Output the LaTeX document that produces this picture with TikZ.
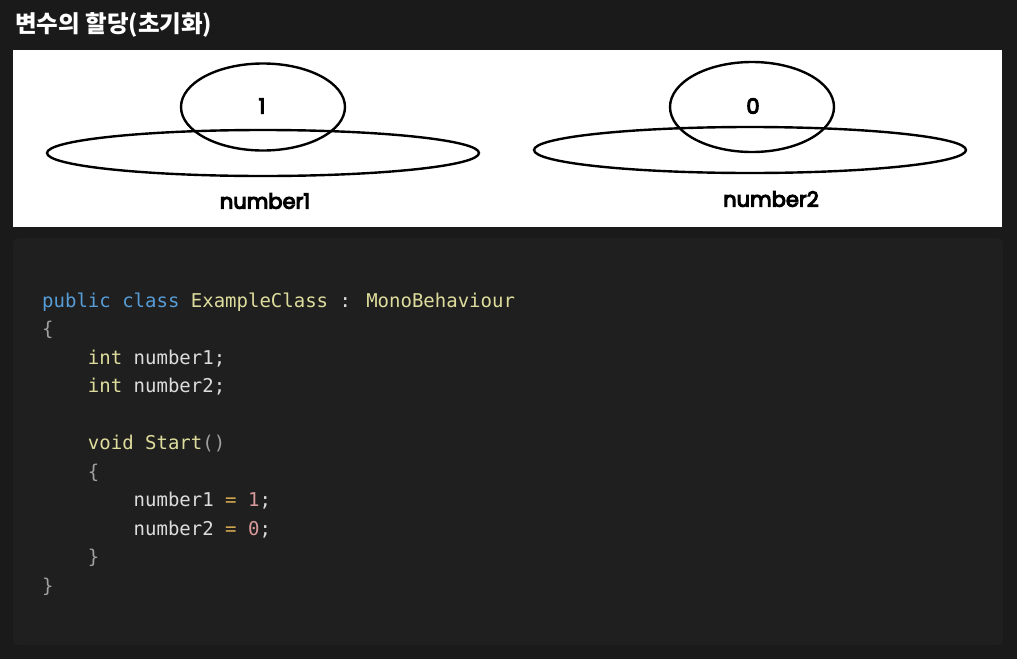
\documentclass[tikz,border=0pt]{standalone}
\usepackage{fontspec}
\usetikzlibrary{shapes.geometric}
\newfontfamily\krfont{Noto Sans CJK KR}
\newfontfamily\lblfont{Poppins}[FakeBold=5]
\newfontfamily\codefont{DejaVu Sans Mono}
\definecolor{bgdark}{HTML}{1A1A1A}
\definecolor{codebg}{HTML}{1F1F1F}
\definecolor{ckw}{HTML}{569CD6}
\definecolor{ctype}{HTML}{DEDC9C}
\definecolor{cplain}{HTML}{DCDCDC}
\definecolor{cbrace}{HTML}{A0A0A0}
\definecolor{cop}{HTML}{D9A951}
\definecolor{cnum}{HTML}{D99A9A}
\tikzset{
  cell/.style={draw=black, line width=2.4pt, ellipse, inner sep=0pt},
  lbl/.style={font=\lblfont\fontsize{21}{21}\selectfont, text=black, inner sep=0pt},
  codeline/.style={anchor=base west, inner sep=0pt, font=\codefont\fontsize{19}{19}\selectfont, text=cplain},
}
\newcommand{\kw}[1]{\textcolor{ckw}{#1}}
\newcommand{\ty}[1]{\textcolor{ctype}{#1}}
\newcommand{\br}[1]{\textcolor{cbrace}{#1}}
\newcommand{\op}[1]{\textcolor{cop}{#1}}
\newcommand{\nm}[1]{\textcolor{cnum}{#1}}
\begin{document}
\begin{tikzpicture}[x=1pt,y=-1pt]
\useasboundingbox (0,0) rectangle (1017,659);
\fill[bgdark] (0,0) rectangle (1017,659);
% title
\node[anchor=base west, inner sep=0pt, text=white, font=\krfont\fontsize{23.5}{23.5}\selectfont\bfseries] (title) at (15,32) {변수의 할당(초기화)};
% white panel
\fill[white] (13,50) rectangle (1002,227);
% left variable
\node[cell, minimum width=432pt, minimum height=46pt] (base1) at (263,153) {};
\node[cell, minimum width=164pt, minimum height=87pt] (val1) at (263,107) {};
\node[lbl] (v1) at (262,106) {1};
\node[lbl] (n1) at (265,201) {number1};
% right variable
\node[cell, minimum width=432pt, minimum height=46pt] (base2) at (750,150) {};
\node[cell, minimum width=164pt, minimum height=90pt] (val2) at (752,107) {};
\node[lbl] (v2) at (753,106) {0};
\node[lbl] (n2) at (771,199) {number2};
% code box
\fill[codebg, rounded corners=5pt] (13,238) rectangle (1003,645);
\node[codeline] (l1) at (42,307) {\kw{public} \kw{class} \ty{ExampleClass} : \ty{MonoBehaviour}};
\node[codeline] (l2) at (42,335.5) {\br{\{}};
\node[codeline] (l3) at (42,364) {\phantom{xxxx}\ty{int} number1;};
\node[codeline] (l4) at (42,392.5) {\phantom{xxxx}\ty{int} number2;};
\node[codeline] (l6) at (42,449.5) {\phantom{xxxx}\ty{void} \ty{Start}\br{()}};
\node[codeline] (l7) at (42,478) {\phantom{xxxx}\br{\{}};
\node[codeline] (l8) at (42,506.5) {\phantom{xxxxxxxx}number1 \op{=} \nm{1};};
\node[codeline] (l9) at (42,535) {\phantom{xxxxxxxx}number2 \op{=} \nm{0};};
\node[codeline] (l10) at (42,563.5) {\phantom{xxxx}\br{\}}};
\node[codeline] (l11) at (42,592) {\br{\}}};
\end{tikzpicture}
\end{document}
